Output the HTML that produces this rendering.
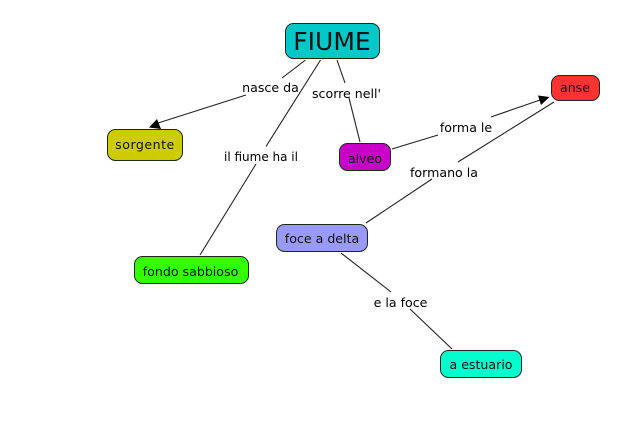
<!DOCTYPE html>
<html>
<head>
<meta charset="utf-8">
<style>
html,body{margin:0;padding:0;background:#fff;width:644px;height:423px;overflow:hidden}
svg{display:block;position:absolute;left:0;top:0}
text{font-family:"DejaVu Sans","Liberation Sans",sans-serif;font-size:12.6px;text-anchor:middle;fill:#000}
.n{fill:#111}
rect{stroke:#1a2a1a;stroke-width:1}
line{stroke:#222;stroke-width:1.1}
</style>
</head>
<body>
<svg width="644" height="423" viewBox="0 0 644 423" xmlns="http://www.w3.org/2000/svg">
<line x1="305.5" y1="60" x2="282" y2="78"/>
<line x1="246" y1="95" x2="155" y2="124"/>
<polygon points="149,127.5 157,119 161,129" fill="#000"/>
<line x1="320.5" y1="60" x2="266" y2="146.5"/>
<line x1="256" y1="164" x2="200" y2="255"/>
<line x1="337" y1="60" x2="345" y2="83"/>
<line x1="349" y1="98" x2="360" y2="142"/>
<line x1="392" y1="149" x2="438" y2="135"/>
<line x1="491" y1="117" x2="540" y2="100"/>
<polygon points="549.5,97 538,95.5 541,105" fill="#000"/>
<line x1="554" y1="102" x2="458" y2="162"/>
<line x1="432" y1="179" x2="366" y2="223"/>
<line x1="341" y1="253" x2="391" y2="292"/>
<line x1="410" y1="309" x2="452" y2="349"/>

<rect x="285.5" y="23.5" width="94" height="35" rx="8" fill="#00c8c8"/>
<rect x="107.5" y="129.5" width="75" height="31" rx="8" fill="#cccc00"/>
<rect x="339.5" y="143.5" width="51" height="27" rx="8" fill="#c800c8"/>
<rect x="551.5" y="75.5" width="48" height="25" rx="8" fill="#ff3333"/>
<rect x="276.5" y="224.5" width="91" height="27" rx="8" fill="#9999ff"/>
<rect x="134.5" y="256.5" width="114" height="27" rx="8" fill="#33ff00"/>
<rect x="440.5" y="350.5" width="81" height="27" rx="8" fill="#00ffcc"/>

<text x="332" y="50" class="n" style="font-size:25px">FIUME</text>
<text x="145" y="149" class="n" style="letter-spacing:.5px">sorgente</text>
<text x="365" y="163" class="n">alveo</text>
<text x="575" y="92" class="n">anse</text>
<text x="322" y="243" class="n">foce a delta</text>
<text x="190.5" y="276" class="n">fondo sabbioso</text>
<text x="481" y="369" class="n">a estuario</text>

<text x="270.5" y="92">nasce da</text>
<text x="346.5" y="98">scorre nell'</text>
<text x="261" y="161" style="font-size:12px">il fiume ha il</text>
<text x="466" y="132">forma le</text>
<text x="444" y="177">formano la</text>
<text x="400.5" y="307">e la foce</text>
</svg>
</body>
</html>
